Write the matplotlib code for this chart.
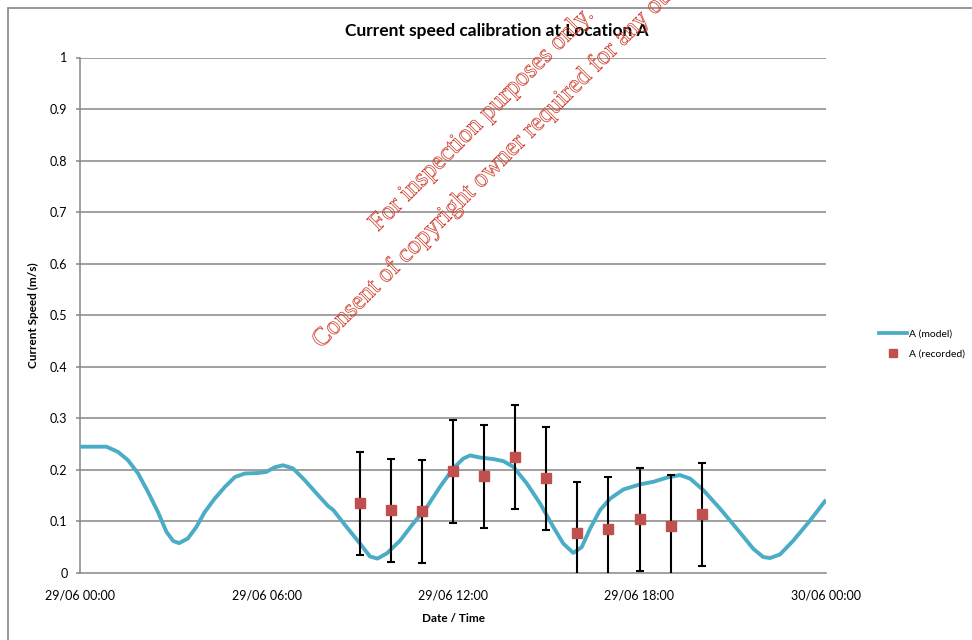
import matplotlib
matplotlib.use("Agg")
import matplotlib.pyplot as plt
from matplotlib.patches import Rectangle, PathPatch
from matplotlib.lines import Line2D
from matplotlib.textpath import TextPath
from matplotlib.font_manager import FontProperties
from matplotlib.transforms import Affine2D

plt.rcParams['font.family'] = ['Lato', 'DejaVu Sans']

# ---- data ----
model_hours = [0.0, 0.85, 1.22, 1.54, 1.87, 2.19, 2.51, 2.78, 3.0, 3.19, 3.47, 3.74, 4.01,
               4.33, 4.66, 4.98, 5.3, 5.73, 5.99, 6.26, 6.53, 6.85, 7.23, 7.66, 7.98, 8.15,
               8.58, 9.01, 9.33, 9.57, 9.87, 10.3, 10.72, 11.16, 11.58, 12.01, 12.33, 12.55,
               12.87, 13.3, 13.62, 13.94, 14.37, 14.8, 15.23, 15.55, 15.87, 16.14, 16.41,
               16.73, 17.05, 17.48, 18.02, 18.45, 18.88, 19.3, 19.63, 20.05, 20.59, 21.13,
               21.66, 21.98, 22.2, 22.52, 22.95, 23.49, 24.0]
model_speed = [0.245, 0.245, 0.235, 0.219, 0.193, 0.157, 0.118, 0.080, 0.062, 0.058, 0.067,
               0.089, 0.118, 0.144, 0.167, 0.186, 0.193, 0.194, 0.196, 0.205, 0.209, 0.203,
               0.180, 0.151, 0.130, 0.122, 0.089, 0.057, 0.032, 0.028, 0.038, 0.063, 0.096,
               0.128, 0.167, 0.203, 0.222, 0.228, 0.224, 0.221, 0.217, 0.206, 0.174, 0.135,
               0.089, 0.057, 0.039, 0.050, 0.086, 0.122, 0.144, 0.162, 0.172, 0.177, 0.185,
               0.190, 0.183, 0.161, 0.125, 0.086, 0.047, 0.031, 0.029, 0.036, 0.063, 0.102,
               0.142]

rec_hours = [9, 10, 11, 12, 13, 14, 15, 16, 17, 18, 19, 20]
rec_speed = [0.135, 0.122, 0.120, 0.197, 0.188, 0.225, 0.184, 0.077, 0.086, 0.104, 0.091, 0.114]
rec_err = [0.1, 0.1, 0.1, 0.1, 0.1, 0.1, 0.1, 0.1, 0.1, 0.1, 0.1, 0.1]

x_ticks = [0, 6, 12, 18, 24]
x_labels = ['29/06 00:00', '29/06 06:00', '29/06 12:00', '29/06 18:00', '30/06 00:00']
y_ticks = [0, 0.1, 0.2, 0.3, 0.4, 0.5, 0.6, 0.7, 0.8, 0.9, 1.0]
y_labels = ['0', '0.1', '0.2', '0.3', '0.4', '0.5', '0.6', '0.7', '0.8', '0.9', '1']

W, H = 972, 640
fig = plt.figure(figsize=(W / 100, H / 100), dpi=100)
ax = fig.add_axes([80 / W, 1 - 573 / H, (826 - 80) / W, (573 - 57.5) / H])

grid_c = '#868686'
line_c = '#4BACC6'
mark_c = '#C0504D'

ax.plot(model_hours, model_speed, color=line_c, lw=2.8, solid_capstyle='butt',
        solid_joinstyle='round', zorder=3)
ax.errorbar(rec_hours, rec_speed, yerr=rec_err, fmt='none', ecolor='black', elinewidth=1.5,
            capsize=3, capthick=1.5, zorder=4)
ax.plot(rec_hours, rec_speed, linestyle='none', marker='s', markersize=7.5,
        markerfacecolor=mark_c, markeredgecolor=mark_c, zorder=5)

ax.set_xlim(0, 24)
ax.set_ylim(0, 1)
ax.set_yticks(y_ticks)
ax.set_yticklabels(y_labels)
ax.set_xticks(x_ticks)
ax.set_xticklabels(x_labels)

for yv in y_ticks[1:]:
    ax.axhline(yv, color=grid_c, lw=1.1, zorder=1)

for s in ['top', 'right']:
    ax.spines[s].set_visible(False)
for s in ['left', 'bottom']:
    ax.spines[s].set_color(grid_c)
    ax.spines[s].set_linewidth(1.1)

ax.tick_params(axis='y', length=3, width=1.1, color=grid_c, pad=6, labelsize=9,
               labelcolor='black')
ax.tick_params(axis='x', length=0, pad=12, labelsize=9, labelcolor='black')

ax.set_ylabel('Current Speed (m/s)', fontsize=8.5, fontweight='bold', labelpad=8)
ax.set_xlabel('Date / Time', fontsize=8.5, fontweight='bold', labelpad=8)

fig.text(497 / W, 1 - 31 / H, 'Current speed calibration at Location A', ha='center',
         va='center', fontsize=12.5, fontweight='bold')

handles = [Line2D([0], [0], color=line_c, lw=2.7),
           Line2D([0], [0], linestyle='none', marker='s', markersize=6,
                  markerfacecolor=mark_c, markeredgecolor=mark_c)]
fig.legend(handles, ['A (model)', 'A (recorded)'], loc='center left',
           bbox_to_anchor=(874 / W, 1 - 344 / H), frameon=False, fontsize=7.5,
           handlelength=2.7, handletextpad=0.15, labelspacing=1.0, borderpad=0)

# outer chart border
fig.patches.append(Rectangle((8 / W, -0.2), 1.5, 1.2 - 8 / H, fill=False,
                             edgecolor=grid_c, lw=1.2, transform=fig.transFigure))

# watermark (hollow outlined text)
wm_c = '#D04030'
fp = FontProperties(family='Liberation Serif')
for txt, px, py in [('For inspection purposes only.', 378, 232),
                    ('Consent of copyright owner required for any other use.', 321, 349)]:
    tp = TextPath((0, 0), txt, size=26, prop=fp)
    tr = Affine2D().rotate_deg(45).translate(px, H - py)
    fig.patches.append(PathPatch(tp, transform=tr, facecolor='none', edgecolor=wm_c,
                                 lw=0.55, zorder=10))

fig.savefig('out.png', dpi=100)
